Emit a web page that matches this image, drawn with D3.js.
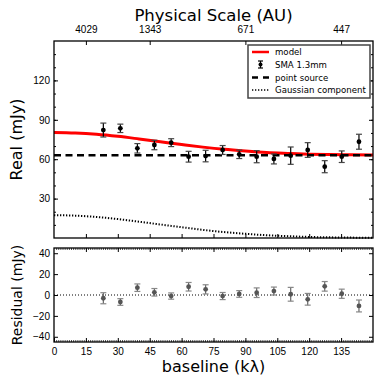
<!DOCTYPE html>
<html>
<head>
<meta charset="utf-8">
<script src="https://cdn.jsdelivr.net/npm/d3@7"></script>
<style>
  body { margin: 0; background: #fff; }
  svg { display: block; font-family: "DejaVu Sans", sans-serif; }
  .tick text { font-size: 10px; fill: #000; }
  .tick line { stroke: #000; }
</style>
</head>
<body>
<div id="chart"></div>
<script>

// Data
var baselines = [23.2, 31.2, 39.2, 47.2, 55.1, 63.3, 71.3, 79.3, 87.1, 95.3, 103.4, 111.3, 119.3, 127.3, 135.3, 143.4];
var realVals  = [82.2, 83.5, 68.3, 70.8, 72.6, 61.9, 62.4, 67.0, 63.7, 61.9, 60.2, 62.7, 67.0, 54.3, 61.9, 73.3];
var realErr   = [5.3, 3.2, 3.6, 3.6, 3.0, 4.1, 4.4, 3.4, 3.2, 4.6, 3.8, 6.6, 5.6, 4.6, 4.4, 5.7];
var residVals = [-3.1, -6.7, 7.0, 2.6, -1.0, 7.9, 5.4, -1.0, 1.0, 2.2, 3.8, 0.7, -4.1, 8.3, 1.2, -10.5];

// model curves, sampled every 10 klambda
var curveX     = [0, 10, 20, 30, 40, 50, 60, 70, 80, 90, 100, 110, 120, 130, 140, 150];
var modelVals  = [80.4, 80.0, 79.0, 77.4, 75.4, 73.3, 71.2, 69.2, 67.5, 66.2, 65.1, 64.4, 63.8, 63.5, 63.3, 63.2];
var gaussVals  = [17.4, 17.0, 16.0, 14.4, 12.4, 10.3, 8.2, 6.2, 4.5, 3.2, 2.1, 1.4, 0.8, 0.5, 0.3, 0.2];
var pointFlux  = 63.0;

// Tick labels
var xTicks        = [0, 15, 30, 45, 60, 75, 90, 105, 120, 135];
var topTicks      = [15, 45, 90, 135];
var topTickLabels = ["4029", "1343", "671", "447"];
var realTicks     = [30, 60, 90, 120];
var residTicks    = [-40, -20, 0, 20, 40];
var legendLabels  = ["model", "SMA 1.3mm", "point source", "Gaussian component"];

var W = 382, H = 388;
var left = 54, right = 373;
var top1 = 41, bot1 = 238;
var top2 = 248, bot2 = 342;

var svg = d3.select("#chart").append("svg")
  .attr("width", W)
  .attr("height", H);

// Scales
var x = d3.scaleLinear().domain([0, 150]).range([left, right]);
var yReal = d3.scaleLinear().domain([0, 150]).range([bot1, top1]);
var yRes = d3.scaleLinear().domain([-45, 45]).range([bot2, top2]);

var minus = function(d) { return d < 0 ? "\u2212" + Math.abs(d) : "" + d; };

// ---- Top panel axes
svg.append("g")
  .attr("transform", "translate(0," + top1 + ")")
  .call(d3.axisTop(x).tickValues(topTicks)
    .tickFormat(function(d, i) { return topTickLabels[i]; })
    .tickSize(-4).tickSizeOuter(0).tickPadding(8));

svg.append("g")
  .attr("transform", "translate(0," + bot1 + ")")
  .call(d3.axisBottom(x).tickValues(xTicks.slice(1)).tickFormat("")
    .tickSize(-4).tickSizeOuter(0));

// minor y ticks every 10
var realMinor = d3.range(10, 150, 10);
svg.append("g")
  .attr("transform", "translate(" + left + ",0)")
  .call(d3.axisLeft(yReal).tickValues(realMinor).tickFormat("").tickSize(-2).tickSizeOuter(0));
svg.append("g")
  .attr("transform", "translate(" + right + ",0)")
  .call(d3.axisRight(yReal).tickValues(realMinor).tickFormat("").tickSize(-2).tickSizeOuter(0));

svg.append("g")
  .attr("transform", "translate(" + left + ",0)")
  .call(d3.axisLeft(yReal).tickValues(realTicks).tickSize(-4).tickSizeOuter(0).tickPadding(4));
svg.append("g")
  .attr("transform", "translate(" + right + ",0)")
  .call(d3.axisRight(yReal).tickValues(realTicks).tickFormat("").tickSize(-4).tickSizeOuter(0));

// ---- Residual panel axes
var resMinor = d3.range(1, 150, 1);
svg.append("g")
  .attr("class", "minor")
  .attr("transform", "translate(0," + top2 + ")")
  .call(d3.axisTop(x).tickValues(resMinor).tickFormat("").tickSize(-2).tickSizeOuter(0));
svg.append("g")
  .attr("class", "minor")
  .attr("transform", "translate(0," + bot2 + ")")
  .call(d3.axisBottom(x).tickValues(resMinor).tickFormat("").tickSize(-2).tickSizeOuter(0));

svg.append("g")
  .attr("transform", "translate(0," + bot2 + ")")
  .call(d3.axisBottom(x).tickValues(xTicks).tickSize(-4).tickSizeOuter(0).tickPadding(6));
svg.append("g")
  .attr("transform", "translate(0," + top2 + ")")
  .call(d3.axisTop(x).tickValues(xTicks.slice(1)).tickFormat("").tickSize(-4).tickSizeOuter(0));

svg.append("g")
  .attr("transform", "translate(" + left + ",0)")
  .call(d3.axisLeft(yRes).tickValues(residTicks).tickFormat(minus).tickSize(-4).tickSizeOuter(0).tickPadding(4));
svg.append("g")
  .attr("transform", "translate(" + right + ",0)")
  .call(d3.axisRight(yRes).tickValues(residTicks).tickFormat("").tickSize(-4).tickSizeOuter(0));

svg.selectAll(".domain").remove();
svg.selectAll(".minor .tick line").attr("stroke", "#444").attr("stroke-width", 0.7);

// ---- Top panel marks
var curvePts = curveX.map(function(d, i) { return [d, modelVals[i], gaussVals[i]]; });

var modelLine = d3.line()
  .x(function(d) { return x(d[0]); })
  .y(function(d) { return yReal(d[1]); })
  .curve(d3.curveMonotoneX);

var gaussLine = d3.line()
  .x(function(d) { return x(d[0]); })
  .y(function(d) { return yReal(d[2]); })
  .curve(d3.curveMonotoneX);

svg.append("path")
  .attr("d", modelLine(curvePts))
  .attr("fill", "none")
  .attr("stroke", "#ff0000")
  .attr("stroke-width", 3);

svg.append("line")
  .attr("x1", x(0)).attr("x2", x(150))
  .attr("y1", yReal(pointFlux)).attr("y2", yReal(pointFlux))
  .attr("stroke", "#000")
  .attr("stroke-width", 2.5)
  .attr("stroke-dasharray", "7,4.5");

svg.append("path")
  .attr("d", gaussLine(curvePts))
  .attr("fill", "none")
  .attr("stroke", "#000")
  .attr("stroke-width", 2)
  .attr("stroke-dasharray", "1.3,1.7");

function errorBars(sel, yScale, vals, lineCol, capCol, dotCol) {
  var g = sel.selectAll(null)
    .data(baselines)
    .enter().append("g");

  g.append("line")
    .attr("x1", function(d) { return x(d); })
    .attr("x2", function(d) { return x(d); })
    .attr("y1", function(d, i) { return yScale(vals[i] - realErr[i]); })
    .attr("y2", function(d, i) { return yScale(vals[i] + realErr[i]); })
    .attr("stroke", lineCol)
    .attr("stroke-width", 1.2);

  [-1, 1].forEach(function(s) {
    g.append("line")
      .attr("x1", function(d) { return x(d) - 3; })
      .attr("x2", function(d) { return x(d) + 3; })
      .attr("y1", function(d, i) { return yScale(vals[i] + s * realErr[i]); })
      .attr("y2", function(d, i) { return yScale(vals[i] + s * realErr[i]); })
      .attr("stroke", capCol)
      .attr("stroke-width", 1.2);
  });

  g.append("circle")
    .attr("cx", function(d) { return x(d); })
    .attr("cy", function(d, i) { return yScale(vals[i]); })
    .attr("r", 2.4)
    .attr("fill", dotCol);
}

errorBars(svg, yReal, realVals, "#000", "#444", "#000");

// ---- Residual panel marks
svg.append("line")
  .attr("x1", x(0)).attr("x2", x(150))
  .attr("y1", yRes(0)).attr("y2", yRes(0))
  .attr("stroke", "#000")
  .attr("stroke-width", 1)
  .attr("stroke-dasharray", "1,2");

errorBars(svg, yRes, residVals, "#666", "#888", "#555");

// Frames
[[top1, bot1], [top2, bot2]].forEach(function(p) {
  svg.append("rect")
    .attr("x", left).attr("y", p[0])
    .attr("width", right - left).attr("height", p[1] - p[0])
    .attr("fill", "none")
    .attr("stroke", "#000")
    .attr("stroke-width", 1.3);
});

// Legend
var lg = svg.append("g").attr("transform", "translate(248,45)");
lg.append("rect")
  .attr("width", 122).attr("height", 53)
  .attr("fill", "#fff")
  .attr("stroke", "#444")
  .attr("stroke-width", 1.5);

var rowY = [7, 19.5, 32.5, 45];
lg.selectAll("text.lab")
  .data(legendLabels)
  .enter().append("text")
  .attr("class", "lab")
  .attr("x", 27)
  .attr("y", function(d, i) { return rowY[i] + 3; })
  .style("font-size", "8.6px")
  .text(function(d) { return d; });

lg.append("line")
  .attr("x1", 4).attr("x2", 21).attr("y1", rowY[0]).attr("y2", rowY[0])
  .attr("stroke", "#ff0000").attr("stroke-width", 2.5);
lg.append("line")
  .attr("x1", 12.5).attr("x2", 12.5).attr("y1", rowY[1] - 3.5).attr("y2", rowY[1] + 3.5)
  .attr("stroke", "#000").attr("stroke-width", 1.2);
[-3.5, 3.5].forEach(function(o) {
  lg.append("line")
    .attr("x1", 10).attr("x2", 15).attr("y1", rowY[1] + o).attr("y2", rowY[1] + o)
    .attr("stroke", "#000").attr("stroke-width", 1.2);
});
lg.append("circle").attr("cx", 12.5).attr("cy", rowY[1]).attr("r", 2).attr("fill", "#000");
lg.append("line")
  .attr("x1", 4).attr("x2", 21).attr("y1", rowY[2]).attr("y2", rowY[2])
  .attr("stroke", "#000").attr("stroke-width", 2.5).attr("stroke-dasharray", "6,5");
lg.append("line")
  .attr("x1", 4).attr("x2", 21).attr("y1", rowY[3]).attr("y2", rowY[3])
  .attr("stroke", "#000").attr("stroke-width", 1.5).attr("stroke-dasharray", "1.3,1.7");

// Axis titles
svg.append("text")
  .attr("x", (left + right) / 2).attr("y", 21)
  .attr("text-anchor", "middle")
  .style("font-size", "16.5px")
  .text("Physical Scale (AU)");

svg.append("text")
  .attr("x", (left + right) / 2).attr("y", 372)
  .attr("text-anchor", "middle")
  .style("font-size", "16px")
  .text("baseline (k\u03bb)");

svg.append("text")
  .attr("transform", "translate(22," + ((top1 + bot1) / 2) + ")rotate(-90)")
  .attr("text-anchor", "middle")
  .style("font-size", "16px")
  .text("Real (mJy)");

svg.append("text")
  .attr("transform", "translate(22," + ((top2 + bot2) / 2) + ")rotate(-90)")
  .attr("text-anchor", "middle")
  .style("font-size", "14px")
  .text("Residual (mJy)");

</script>
</body>
</html>
